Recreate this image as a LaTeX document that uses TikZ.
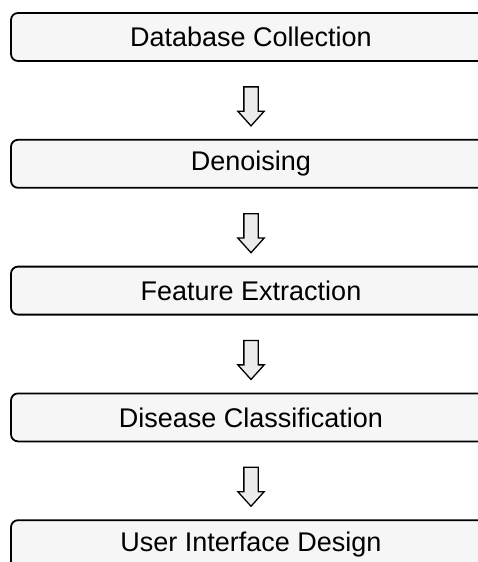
\documentclass[tikz,border=0pt]{standalone}
\usepackage{fontspec}
\setmainfont{Liberation Sans}
\usepackage{tikz}
\usetikzlibrary{positioning, calc, shapes.arrows}
\tikzset{every picture/.style={line width=0.75pt}}

\begin{document}
\begin{tikzpicture}[node distance=77pt,
        every node/.style={font=\fontsize{27}{32}\selectfont},
        stage/.style={draw, line width=1.8pt, rounded corners=7pt, fill=gray!7,
            minimum width=480pt, minimum height=48pt, inner sep=0pt},
        downarrow/.style={single arrow, draw, line width=1.3pt, fill=gray!15,
            shape border rotate=270, inner sep=6.5pt, minimum height=39pt,
            single arrow head extend=6pt, single arrow tip angle=84}]
        \useasboundingbox (0,0) rectangle (478pt,-562pt);
        \node[stage] (db) at (251pt,-37pt) {Database Collection};
        \node[stage,below=of db] (dn) {Denoising};
        \node[stage,below=of dn] (fe) {Feature Extraction};
        \node[stage,below=of fe] (dc) {Disease Classification};
        \node[stage,below=of dc] (ui) {User Interface Design};

        \foreach \a/\b in {db/dn, dn/fe, fe/dc, dc/ui}
            \node[downarrow] (\a-\b) at ($(\a.south)!0.5!(\b.north)+(0,-2pt)$) {};
    \end{tikzpicture}
\end{document}
